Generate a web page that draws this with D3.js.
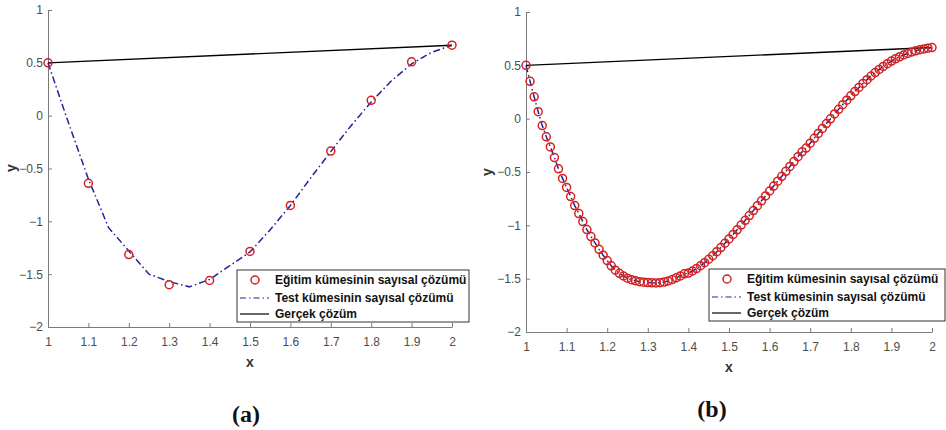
<!DOCTYPE html>
<html>
<head>
<meta charset="utf-8">
<script src="https://cdn.jsdelivr.net/npm/d3@7"></script>
<style>
  body { margin: 0; background: #fff; }
  svg { display: block; }
  .tick text { font-family: "Liberation Sans", Arial, sans-serif; font-size: 12px; fill: #4d4d4d; }
  .tick line, .domain { stroke: #7a7a7a; }
</style>
</head>
<body>
<div id="chart"></div>
<script>
// x ticks and y ticks shared by both panels
var xTicks = [1, 1.1, 1.2, 1.3, 1.4, 1.5, 1.6, 1.7, 1.8, 1.9, 2];
var yTicks = [1, 0.5, 0, -0.5, -1, -1.5, -2];

var legendLabels = ['Eğitim kümesinin sayısal çözümü', 'Test kümesinin sayısal çözümü', 'Gerçek çözüm'];

// (a) training set: 11 points
var trainAx = [1, 1.1, 1.2, 1.3, 1.4, 1.5, 1.6, 1.7, 1.8, 1.9, 2];
var trainAy = [0.5, -0.64, -1.315, -1.6, -1.56, -1.285, -0.85, -0.335, 0.145, 0.51, 0.667];

// (a) test set
var testAx = [1, 1.05, 1.1, 1.15, 1.2, 1.25, 1.3, 1.35, 1.4, 1.45, 1.5, 1.55, 1.6, 1.65, 1.7, 1.75, 1.8, 1.85, 1.9, 1.95, 2];
var testAy = [0.5, -0.06, -0.6, -1.06, -1.28, -1.5, -1.57, -1.62, -1.55, -1.42, -1.29, -1.08, -0.85, -0.59, -0.34, -0.095, 0.13, 0.33, 0.49, 0.6, 0.667];

// exact solution
var exactX = [1, 2];
var exactY = [0.5, 0.667];

// (b) training set: 101 points, step 0.01
var trainBy = [
  0.5, 0.35, 0.205, 0.065, -0.065, -0.17, -0.265, -0.365, -0.47, -0.56,
  -0.645, -0.73, -0.815, -0.89, -0.965, -1.04, -1.105, -1.165, -1.225, -1.28,
  -1.33, -1.38, -1.42, -1.45, -1.475, -1.495, -1.51, -1.52, -1.528, -1.533,
  -1.537, -1.539, -1.54, -1.538, -1.532, -1.522, -1.508, -1.492, -1.474, -1.455,
  -1.448, -1.428, -1.405, -1.379, -1.35, -1.318, -1.284, -1.247, -1.208, -1.168,
  -1.127, -1.085, -1.042, -0.998, -0.953, -0.908, -0.862, -0.816, -0.77, -0.724,
  -0.678, -0.632, -0.586, -0.54, -0.494, -0.448, -0.402, -0.356, -0.311, -0.276,
  -0.23, -0.184, -0.138, -0.092, -0.046, -0.001, 0.044, 0.088, 0.131, 0.173,
  0.214, 0.254, 0.293, 0.33, 0.366, 0.4, 0.432, 0.462, 0.49, 0.516,
  0.54, 0.561, 0.58, 0.597, 0.612, 0.625, 0.636, 0.646, 0.654, 0.661,
  0.667
];
var trainBx = d3.range(trainBy.length).map(function (i) { return +(1 + i / 100).toFixed(2); });

// (b) test set follows the same curve
var testBx = trainBx;
var testBy = trainBy;

var W = 946, H = 430;
var svg = d3.select('#chart').append('svg').attr('width', W).attr('height', H);

var panels = [
  { label: '(a)', left: 48, right: 452, top: 10, bottom: 327, r: 4,
    train: [trainAx, trainAy], test: [testAx, testAy],
    legend: { x: 237, y: 270, w: 232, h: 52 }, ylab: [11, 168], caption: [246, 422] },
  { label: '(b)', left: 526, right: 932, top: 12, bottom: 332, r: 4,
    train: [trainBx, trainBy], test: [testBx, testBy],
    legend: { x: 709, y: 269, w: 236, h: 52 }, ylab: [487, 172], caption: [712, 417] }
];

function zip(xs, ys) {
  return xs.map(function (x, i) { return [x, ys[i]]; });
}

panels.forEach(function (p) {
  var x = d3.scaleLinear().domain([1, 2]).range([p.left, p.right]);
  var y = d3.scaleLinear().domain([-2, 1]).range([p.bottom, p.top]);
  var g = svg.append('g');

  g.append('g')
    .attr('transform', 'translate(0,' + p.bottom + ')')
    .call(d3.axisBottom(x).tickValues(xTicks).tickFormat(d3.format('')).tickSizeInner(-4).tickSizeOuter(0).tickPadding(10));
  g.append('g')
    .attr('transform', 'translate(' + p.left + ',0)')
    .call(d3.axisLeft(y).tickValues(yTicks).tickFormat(d3.format(''))
      .tickSizeInner(-4).tickSizeOuter(0).tickPadding(5));

  g.append('text')
    .attr('x', (p.left + p.right) / 2).attr('y', p.bottom + 40)
    .attr('text-anchor', 'middle')
    .style('font', 'bold 14px "Liberation Sans", Arial, sans-serif').style('fill', '#333')
    .text('x');
  g.append('text')
    .attr('transform', 'translate(' + p.ylab[0] + ',' + p.ylab[1] + ') rotate(-90)')
    .attr('text-anchor', 'middle').attr('dy', '0.35em')
    .style('font', 'bold 14px "Liberation Sans", Arial, sans-serif').style('fill', '#333')
    .text('y');

  var line = d3.line().x(function (d) { return x(d[0]); }).y(function (d) { return y(d[1]); });

  g.append('path').datum(zip(exactX, exactY))
    .attr('d', line).attr('fill', 'none').attr('stroke', '#000').attr('stroke-width', 1.4);

  g.append('path').datum(zip(p.test[0], p.test[1]))
    .attr('d', line).attr('fill', 'none').attr('stroke', '#22229a').attr('stroke-width', 1.5)
    .attr('stroke-dasharray', '7,3,1.5,3');

  g.selectAll('circle.train').data(zip(p.train[0], p.train[1])).enter()
    .append('circle').attr('class', 'train')
    .attr('cx', function (d) { return x(d[0]); })
    .attr('cy', function (d) { return y(d[1]); })
    .attr('r', p.r).attr('fill', 'none').attr('stroke', '#d42020').attr('stroke-width', 1.5);

  // legend
  var L = p.legend;
  var lg = g.append('g').attr('transform', 'translate(' + L.x + ',' + L.y + ')');
  lg.append('rect').attr('width', L.w).attr('height', L.h)
    .attr('fill', '#fff').attr('stroke', '#333').attr('stroke-width', 1);
  var rows = [10, 28, 44];
  lg.append('circle').attr('cx', 18).attr('cy', rows[0]).attr('r', 4)
    .attr('fill', 'none').attr('stroke', '#d42020').attr('stroke-width', 1.5);
  lg.append('line').attr('x1', 3).attr('x2', 32).attr('y1', rows[1]).attr('y2', rows[1])
    .attr('stroke', '#22229a').attr('stroke-width', 1.2).attr('stroke-dasharray', '6,3,1.5,3');
  lg.append('line').attr('x1', 3).attr('x2', 32).attr('y1', rows[2]).attr('y2', rows[2])
    .attr('stroke', '#000').attr('stroke-width', 1.2);
  lg.selectAll('text').data(legendLabels).enter().append('text')
    .attr('x', 38).attr('y', function (d, i) { return rows[i]; }).attr('dy', '0.35em')
    .style('font', 'bold 12px "Liberation Sans", Arial, sans-serif').style('fill', '#111')
    .text(function (d) { return d; });

  svg.append('text')
    .attr('x', p.caption[0]).attr('y', p.caption[1])
    .attr('text-anchor', 'middle')
    .style('font', 'bold 24px "Liberation Serif", "Times New Roman", serif').style('fill', '#111')
    .text(p.label);
});
</script>
</body>
</html>
